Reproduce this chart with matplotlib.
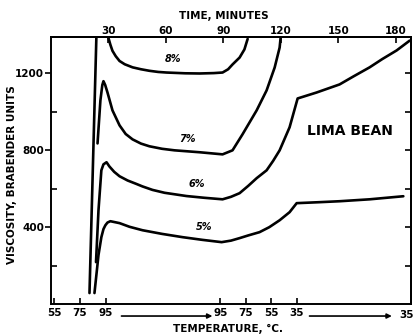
import matplotlib
matplotlib.use("Agg")
import matplotlib.pyplot as plt

# ---- data (time in minutes, viscosity in Brabender units) ----
t8a = [20.1, 23.7]
v8a = [57, 1390]
t8 = [30.0, 31.0, 32.1, 33.8, 35.8, 38.5, 42.6, 47.0, 51.4, 56.0, 60.3, 70.0, 77.6, 85.0, 89.6, 92.5, 94.8, 98.5, 101.0, 102.7]
v8 = [1385, 1350, 1318, 1290, 1265, 1248, 1232, 1222, 1214, 1208, 1205, 1201, 1200, 1202, 1205, 1222, 1247, 1283, 1325, 1380]

t7 = [24.3, 25.8, 26.8, 27.4, 28.3, 29.5, 32.1, 35.8, 39.0, 42.6, 47.0, 51.4, 58.0, 64.5, 77.6, 89.6, 94.8, 100.0, 107.4, 112.6, 116.8, 119.4, 119.9]
v7 = [836, 1060, 1140, 1160, 1140, 1101, 1008, 930, 885, 857, 835, 821, 808, 800, 790, 779, 800, 883, 1008, 1112, 1231, 1335, 1385]

t6 = [23.5, 24.8, 26.3, 27.4, 29.0, 30.5, 33.0, 35.8, 40.0, 44.6, 47.8, 53.0, 59.3, 70.8, 80.0, 89.6, 94.0, 98.5, 103.0, 107.4, 112.6, 116.0, 119.4, 122.0, 124.6, 128.8, 138.7, 150.7, 158.0, 166.4, 173.0, 180.5, 187.3]
v6 = [218, 488, 696, 727, 738, 716, 688, 665, 643, 625, 612, 594, 579, 562, 553, 545, 558, 577, 615, 655, 696, 745, 800, 860, 920, 1070, 1101, 1143, 1185, 1232, 1275, 1320, 1371]

t5 = [22.7, 23.7, 24.8, 26.3, 27.4, 28.4, 29.5, 31.0, 35.8, 41.0, 47.8, 58.0, 68.7, 79.0, 89.1, 94.0, 98.5, 103.0, 108.9, 114.0, 119.4, 124.6, 128.3, 140.0, 150.7, 166.4, 184.0]
v5 = [57, 151, 255, 348, 390, 410, 424, 431, 421, 402, 384, 365, 348, 334, 322, 330, 343, 357, 374, 400, 436, 478, 525, 530, 535, 545, 561]

curve_labels = ["8%", "7%", "6%", "5%"]
label_t = [63.5, 71.5, 76.0, 80.0]
label_v = [1250, 832, 598, 374]

time_ticks = [30, 60, 90, 120, 150, 180]
temp_tick_times = [1.8, 15.1, 28.5, 88.5, 101.8, 115.1, 128.5]
temp_tick_labels = ["55", "75", "95", "95", "75", "55", "35"]
end_temp_label = "35"
y_major = [400, 800, 1200]
y_minor = [200, 600, 1000]
y_right = [200, 400, 600, 800, 1000, 1200]

XMAX = 188
YMAX = 1390

plt.rcParams['font.family'] = ['DejaVu Sans']
fig = plt.figure(figsize=(4.17, 3.35), dpi=100)
ax = fig.add_axes([0.1223, 0.0925, 0.8633, 0.7971])

lw = 1.9
for t, v in [(t8a, v8a), (t8, v8), (t7, v7), (t6, v6), (t5, v5)]:
    ax.plot(t, v, color="black", lw=lw, solid_capstyle="round", solid_joinstyle="round")

for lab, tx, vy in zip(curve_labels, label_t, label_v):
    ax.text(tx, vy, lab, fontsize=7, fontweight="bold", style="italic",
            ha="center", va="bottom")

ax.set_xlim(0, XMAX)
ax.set_ylim(0, YMAX)

for s in ax.spines.values():
    s.set_linewidth(1.4)

# left y axis
ax.set_yticks(y_major)
ax.set_yticklabels([str(v) for v in y_major], fontsize=7.5, fontweight="bold")
ax.set_yticks(y_minor, minor=True)
ax.tick_params(axis="y", which="major", direction="out", length=4, width=1.2, pad=1)
ax.tick_params(axis="y", which="minor", direction="in", length=4, width=1.2)

# right y axis ticks
sy = ax.secondary_yaxis("right")
sy.set_yticks(y_right)
sy.set_yticklabels([])
sy.tick_params(direction="in", length=4, width=1.2)
sy.spines["right"].set_linewidth(1.4)

# bottom temperature axis
ax.set_xticks(temp_tick_times)
ax.set_xticklabels(temp_tick_labels, fontsize=7.5, fontweight="bold")
ax.tick_params(axis="x", which="major", direction="in", length=4, width=1.2, pad=3)
ax.text(XMAX - 2.5, -0.022 * YMAX, end_temp_label, fontsize=7.5, fontweight="bold",
        ha="center", va="top", clip_on=False)

# arrows on temperature axis
for x0, x1 in [(36.8, 84.3), (135.0, 178.0)]:
    ax.annotate("", xy=(x1, -0.045 * YMAX), xytext=(x0, -0.045 * YMAX),
                xycoords="data", textcoords="data", annotation_clip=False,
                arrowprops=dict(arrowstyle="-|>", color="black", lw=1.2,
                                mutation_scale=7, shrinkA=0, shrinkB=0))

# top time axis
sx = ax.secondary_xaxis("top")
sx.set_xticks(time_ticks)
sx.set_xticklabels([str(v) for v in time_ticks], fontsize=7.5, fontweight="bold")
sx.tick_params(direction="in", length=4, width=1.2, pad=1)
sx.spines["top"].set_linewidth(1.4)

fig.text(224 / 417, 1 - 16 / 335, "TIME, MINUTES", fontsize=7.5, fontweight="bold",
         ha="center", va="center")
fig.text(228 / 417, 1 - 329 / 335, "TEMPERATURE, °C.", fontsize=7.5, fontweight="bold",
         ha="center", va="center")
fig.text(12 / 417, 1 - 175 / 335, "VISCOSITY, BRABENDER UNITS", fontsize=7.5,
         fontweight="bold", rotation=90, ha="center", va="center")

ax.text(156, 900, "LIMA BEAN", fontsize=10, fontweight="bold", ha="center", va="center")

fig.savefig("out.png", dpi=100)
